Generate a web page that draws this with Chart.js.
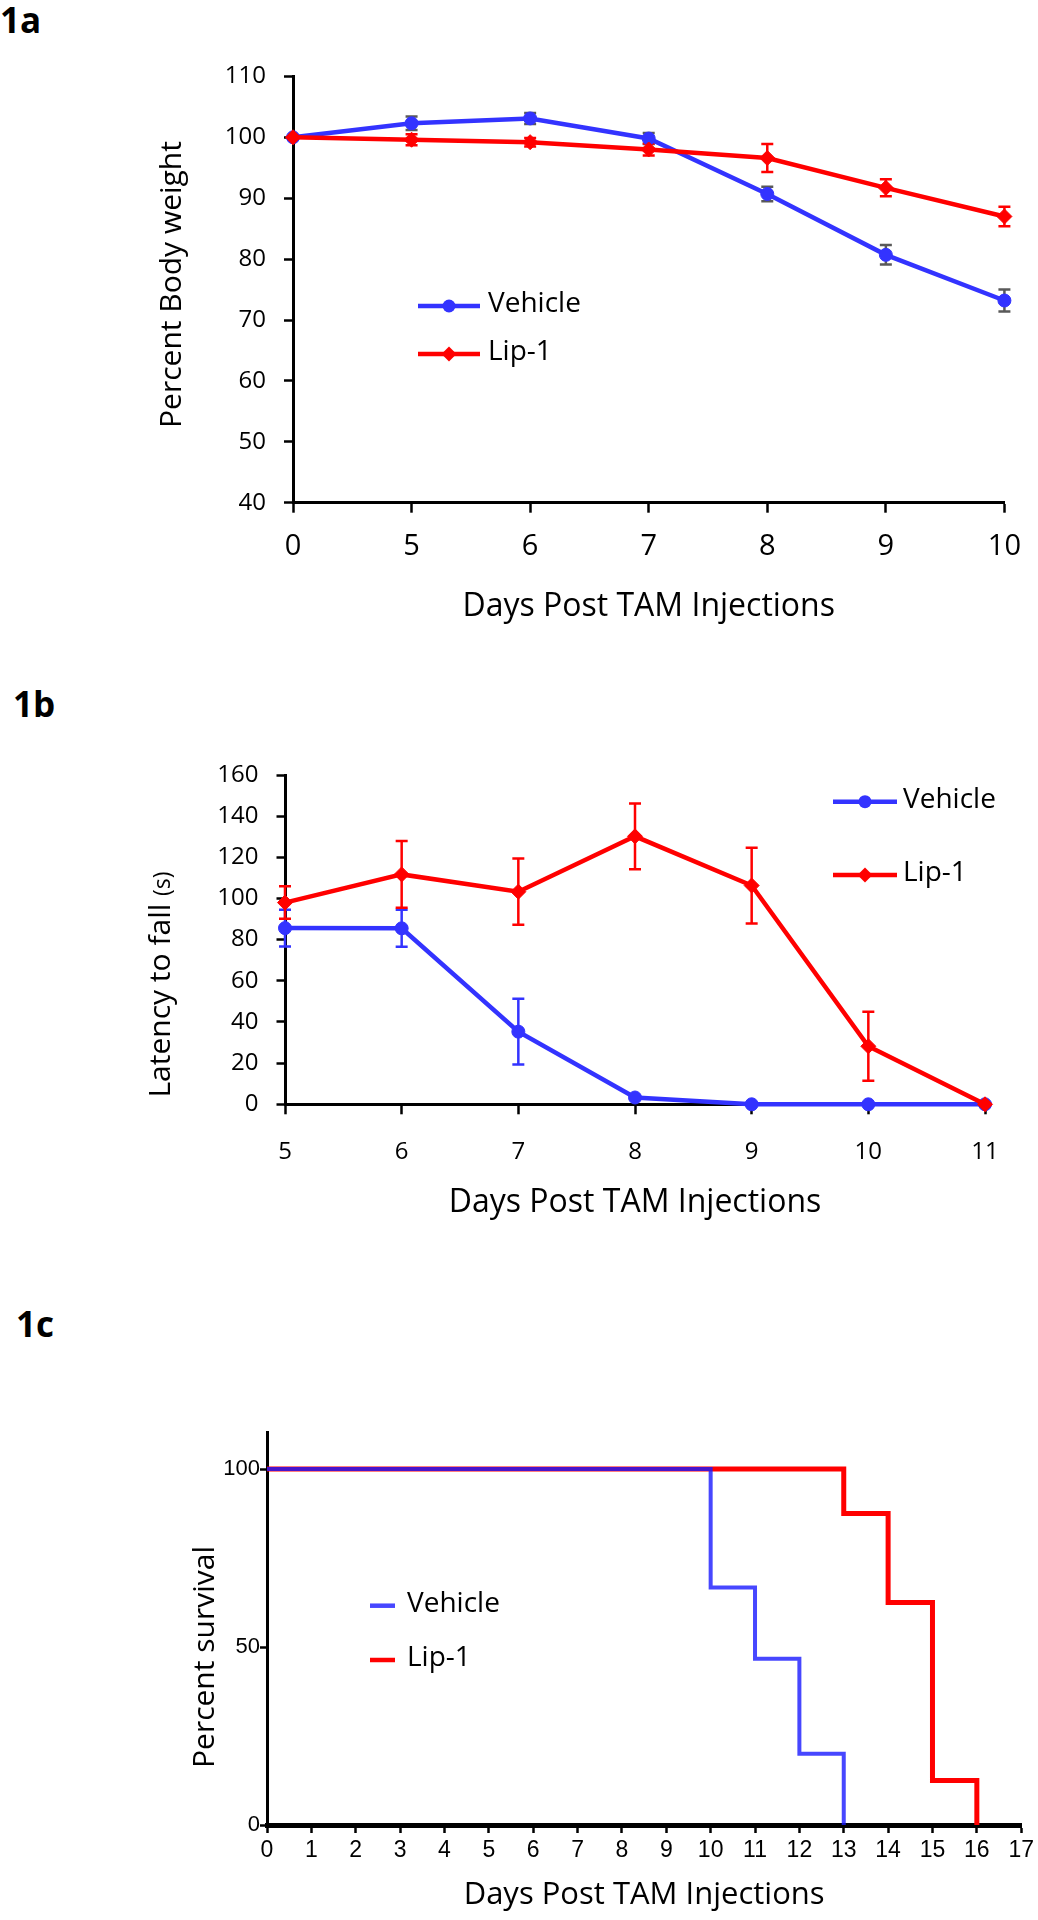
<!DOCTYPE html>
<html>
<head>
<meta charset="utf-8">
<script src="https://cdn.jsdelivr.net/npm/chart.js"></script>
<style>
  html, body { margin: 0; padding: 0; background: #fff; }
  body { width: 1038px; height: 1920px; position: relative; overflow: hidden; font-family: "Open Sans", sans-serif; }
  .panel { position: absolute; left: 0; }
  .tag { position: absolute; font-weight: bold; font-size: 35px; line-height: 1; color: #000; }
</style>
</head>
<body>
<div class="tag" style="left:0px;top:2px">1a</div>
<div class="tag" style="left:13px;top:686px">1b</div>
<div class="tag" style="left:16px;top:1306px">1c</div>
<canvas id="weightChart" class="panel" style="top:0px" width="1038" height="640"></canvas>
<canvas id="rotarodChart" class="panel" style="top:700px" width="1038" height="540"></canvas>
<canvas id="survivalChart" class="panel" style="top:1300px" width="1038" height="620"></canvas>
<script>
// 1a - body weight
const weightDays = ["0", "5", "6", "7", "8", "9", "10"];
const weightVehicle = [100, 102.3, 103.1, 99.8, 90.7, 80.7, 73.2];
const weightVehicleErr = [0, 1.1, 0.9, 0.9, 1.2, 1.6, 1.8];
const weightLip1 = [100, 99.6, 99.2, 98.0, 96.6, 91.7, 87.0];
const weightLip1Err = [0, 0.9, 0.7, 1.0, 2.3, 1.4, 1.6];

// 1b - rotarod
const rotarodDays = ["5", "6", "7", "8", "9", "10", "11"];
const rotarodVehicle = [85.6, 85.5, 35.3, 3.3, 0, 0, 0];
const rotarodVehicleErr = [8.9, 9, 16, 0, 0, 0, 0];
const rotarodLip1 = [98.0, 111.7, 103.3, 130.2, 106.3, 28.2, 0];
const rotarodLip1Err = [7.9, 16.2, 16.1, 16, 18.4, 16.8, 0];

// 1c - survival (Kaplan-Meier steps)
const survivalVehicleDays = [0, 10, 11, 12, 13];
const survivalVehicle = [100, 66.7, 46.7, 20, 0];
const survivalLip1Days = [0, 13, 14, 15, 16];
const survivalLip1 = [100, 87.5, 62.5, 12.5, 0];
const survivalTicks = [0, 50, 100];

const BLUE = "#3333ff";
const RED = "#ff0000";
const FONT = "'Open Sans', sans-serif";
const ARIAL = "'Liberation Sans', Arial, sans-serif";

Chart.defaults.font.family = FONT;
Chart.defaults.color = "#000";

const errorBars = {
  id: "errorBars",
  beforeDatasetsDraw(chart) {
    const { ctx } = chart;
    const y = chart.scales.y;
    chart.data.datasets.forEach((ds, i) => {
      if (!ds.errors) return;
      const meta = chart.getDatasetMeta(i);
      ctx.save();
      ctx.strokeStyle = ds.errorColor;
      ctx.lineWidth = 2.5;
      meta.data.forEach((pt, j) => {
        const err = ds.errors[j];
        if (!err) return;
        const v = ds.data[j];
        const top = y.getPixelForValue(v + err);
        const bot = y.getPixelForValue(v - err);
        ctx.beginPath();
        ctx.moveTo(pt.x, top);
        ctx.lineTo(pt.x, bot);
        ctx.moveTo(pt.x - 6, top);
        ctx.lineTo(pt.x + 6, top);
        ctx.moveTo(pt.x - 6, bot);
        ctx.lineTo(pt.x + 6, bot);
        ctx.stroke();
      });
      ctx.restore();
    });
  },
};

// rotated y title, drawn from parts so "(s)" can be smaller
function makeSideTitle(x, y, parts) {
  return {
    id: "sideTitle",
    afterDraw(chart) {
      const ctx = chart.ctx;
      ctx.save();
      ctx.translate(x, y);
      ctx.rotate(-Math.PI / 2);
      ctx.fillStyle = "#000";
      ctx.textBaseline = "alphabetic";
      ctx.textAlign = "left";
      let total = 0;
      const widths = parts.map((p) => {
        ctx.font = `${p.size}px ${FONT}`;
        const w = ctx.measureText(p.text).width;
        total += w;
        return w;
      });
      let pos = -total / 2;
      parts.forEach((p, i) => {
        ctx.font = `${p.size}px ${FONT}`;
        ctx.fillText(p.text, pos, 0);
        pos += widths[i];
      });
      ctx.restore();
    },
  };
}

function drawMarker(ctx, style, x, y, r, color) {
  ctx.fillStyle = color;
  ctx.beginPath();
  if (style === "rectRot") {
    ctx.moveTo(x, y - r);
    ctx.lineTo(x + r, y);
    ctx.lineTo(x, y + r);
    ctx.lineTo(x - r, y);
    ctx.closePath();
  } else {
    ctx.arc(x, y, r, 0, Math.PI * 2);
  }
  ctx.fill();
}

function makeLegend(cfg) {
  return {
    id: "sideLegend",
    afterDraw(chart) {
      const ctx = chart.ctx;
      chart.data.datasets.forEach((ds, i) => {
        const y = cfg.ys[i];
        ctx.save();
        ctx.strokeStyle = ds.borderColor;
        ctx.lineWidth = cfg.lineWidth;
        ctx.beginPath();
        ctx.moveTo(cfg.x0, y);
        ctx.lineTo(cfg.x1, y);
        ctx.stroke();
        if (cfg.markers) {
          drawMarker(ctx, ds.pointStyle, (cfg.x0 + cfg.x1) / 2, y, ds.pointRadius, ds.borderColor);
        }
        ctx.fillStyle = "#000";
        ctx.font = `28px ${FONT}`;
        ctx.textBaseline = "middle";
        ctx.textAlign = "left";
        ctx.fillText(ds.label, cfg.textX, y - 2);
        ctx.restore();
      });
    },
  };
}

function axisLines(tickLen, borderWidth) {
  return {
    border: { display: true, color: "#000", width: borderWidth },
    grid: {
      display: true,
      drawOnChartArea: false,
      drawTicks: true,
      tickLength: tickLen,
      tickColor: "#000",
      tickWidth: 2.5,
    },
  };
}

function seriesStyle(color, style, radius, width, order) {
  return {
    borderColor: color,
    backgroundColor: color,
    pointBackgroundColor: color,
    pointBorderColor: color,
    pointStyle: style,
    pointRadius: radius,
    pointBorderWidth: 1,
    borderWidth: width,
    tension: 0,
    order: order,
    clip: false,
  };
}

// 1a
new Chart(document.getElementById("weightChart"), {
  type: "line",
  data: {
    labels: weightDays,
    datasets: [
      {
        label: "Vehicle",
        data: weightVehicle,
        errors: weightVehicleErr,
        errorColor: "#595959",
        ...seriesStyle(BLUE, "circle", 6.5, 4.5, 1),
      },
      {
        label: "Lip-1",
        data: weightLip1,
        errors: weightLip1Err,
        errorColor: RED,
        ...seriesStyle(RED, "rectRot", 7.5, 4.5, 0),
      },
    ],
  },
  options: {
    responsive: false,
    animation: false,
    layout: { padding: { left: 0, top: 76.4, right: 33, bottom: 13.9 } },
    plugins: { legend: { display: false }, tooltip: { enabled: false } },
    scales: {
      x: {
        ...axisLines(10, 3),
        offset: false,
        ticks: { font: { size: 29 }, color: "#000", padding: 17, maxRotation: 0, autoSkip: false },
        title: { display: true, text: "Days Post TAM Injections", font: { size: 32 }, color: "#000", padding: 0 },
        afterFit: (s) => { s.height = 123.4; },
      },
      y: {
        ...axisLines(9, 3),
        min: 40,
        max: 110,
        ticks: { stepSize: 10, font: { size: 24 }, color: "#000", padding: 18 },
        afterFit: (s) => { s.width = 293; },
      },
    },
  },
  plugins: [
    errorBars,
    makeSideTitle(181, 284.5, [{ text: "Percent Body weight", size: 30 }]),
    makeLegend({ x0: 418, x1: 480, textX: 488, ys: [306, 354], lineWidth: 4.5, markers: true }),
  ],
});

// 1b
new Chart(document.getElementById("rotarodChart"), {
  type: "line",
  data: {
    labels: rotarodDays,
    datasets: [
      {
        label: "Vehicle",
        data: rotarodVehicle,
        errors: rotarodVehicleErr,
        errorColor: BLUE,
        ...seriesStyle(BLUE, "circle", 6.5, 4.5, 1),
      },
      {
        label: "Lip-1",
        data: rotarodLip1,
        errors: rotarodLip1Err,
        errorColor: RED,
        ...seriesStyle(RED, "rectRot", 7.5, 4.5, 0),
      },
    ],
  },
  options: {
    responsive: false,
    animation: false,
    layout: { padding: { left: 0, top: 75, right: 53, bottom: 18.2 } },
    plugins: { legend: { display: false }, tooltip: { enabled: false } },
    scales: {
      x: {
        ...axisLines(10, 3),
        offset: false,
        ticks: { font: { size: 24 }, color: "#000", padding: 23, maxRotation: 0, autoSkip: false },
        title: { display: true, text: "Days Post TAM Injections", font: { size: 32 }, color: "#000", padding: 0 },
        afterFit: (s) => { s.height = 117.5; },
      },
      y: {
        ...axisLines(8.5, 3),
        min: 0,
        max: 160,
        ticks: { stepSize: 20, font: { size: 24 }, color: "#000", padding: 18 },
        afterFit: (s) => { s.width = 285; },
      },
    },
  },
  plugins: [
    errorBars,
    makeSideTitle(170, 284.5, [
      { text: "Latency to fall ", size: 30 },
      { text: "(s)", size: 23 },
    ]),
    makeLegend({ x0: 833, x1: 897, textX: 903, ys: [101.7, 175], lineWidth: 4.5, markers: true }),
  ],
});

// 1c
new Chart(document.getElementById("survivalChart"), {
  type: "line",
  data: {
    datasets: [
      {
        label: "Vehicle",
        data: survivalVehicleDays.map((d, i) => ({ x: d, y: survivalVehicle[i] })),
        stepped: "before",
        ...seriesStyle("rgba(25, 25, 255, 0.8)", "circle", 0, 4, 0),
      },
      {
        label: "Lip-1",
        data: survivalLip1Days.map((d, i) => ({ x: d, y: survivalLip1[i] })),
        stepped: "before",
        ...seriesStyle(RED, "circle", 0, 5, 1),
      },
    ],
  },
  options: {
    responsive: false,
    animation: false,
    layout: { padding: { left: 0, top: 132, right: 13.5, bottom: 6.4 } },
    plugins: { legend: { display: false }, tooltip: { enabled: false } },
    scales: {
      x: {
        type: "linear",
        ...axisLines(8, 5),
        min: 0,
        max: 17,
        ticks: { stepSize: 1, font: { size: 23, family: ARIAL }, color: "#000", padding: 4, maxRotation: 0, autoSkip: false },
        title: { display: true, text: "Days Post TAM Injections", font: { size: 31 }, color: "#000", padding: 0 },
        afterFit: (s) => { s.height = 88.6; },
      },
      y: {
        ...axisLines(7, 3),
        min: 0,
        max: 110.4,
        afterBuildTicks: (s) => { s.ticks = survivalTicks.map((v) => ({ value: v })); },
        ticks: { font: { size: 22, family: ARIAL }, color: "#000", padding: 0 },
        afterFit: (s) => { s.width = 267; },
      },
    },
  },
  plugins: [
    makeSideTitle(214, 357, [{ text: "Percent survival", size: 30 }]),
    makeLegend({ x0: 370, x1: 395, textX: 407, ys: [305.7, 360], lineWidth: 4.5, markers: false }),
  ],
});
</script>
</body>
</html>
